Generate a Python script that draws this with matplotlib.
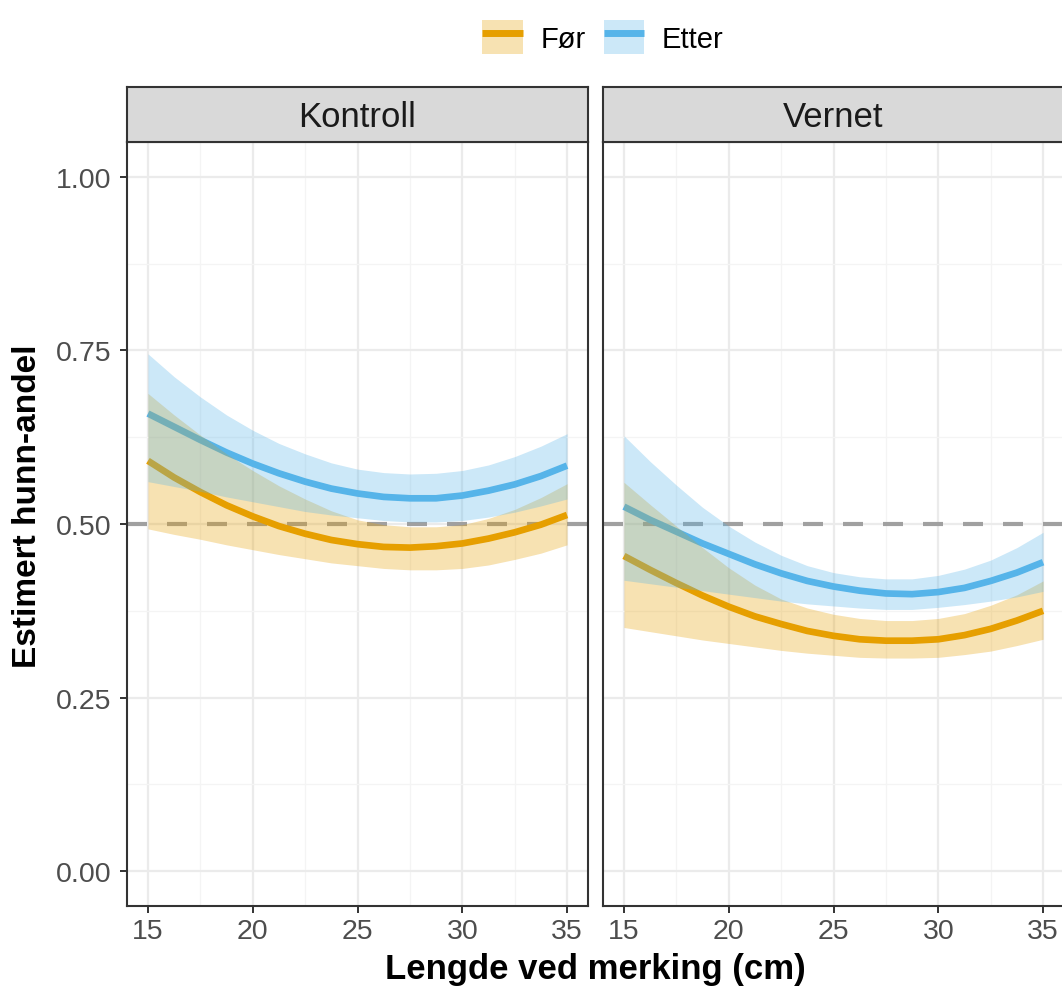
import matplotlib
matplotlib.use("Agg")
import matplotlib.pyplot as plt
from matplotlib.lines import Line2D
from matplotlib.patches import Patch
from matplotlib.legend_handler import HandlerTuple

plt.rcParams['font.family'] = ['Liberation Sans', 'DejaVu Sans']

# fitted share of females with 95% band, per length at tagging (cm)
lengde = [15, 16.25, 17.5, 18.75, 20, 21.25, 22.5, 23.75, 25,
          26.25, 27.5, 28.75, 30, 31.25, 32.5, 33.75, 35]

kontroll_for_fit = [0.591, 0.567, 0.546, 0.527, 0.511, 0.497, 0.486, 0.477, 0.471,
                    0.467, 0.466, 0.468, 0.472, 0.479, 0.488, 0.499, 0.513]
kontroll_for_lo = [0.493, 0.485, 0.478, 0.470, 0.463, 0.456, 0.450, 0.444, 0.440,
                   0.436, 0.434, 0.434, 0.436, 0.441, 0.449, 0.458, 0.470]
kontroll_for_hi = [0.688, 0.657, 0.628, 0.601, 0.577, 0.555, 0.536, 0.519, 0.506,
                   0.499, 0.496, 0.496, 0.499, 0.508, 0.521, 0.538, 0.558]
kontroll_etter_fit = [0.659, 0.640, 0.621, 0.603, 0.587, 0.573, 0.561, 0.551, 0.544,
                      0.539, 0.537, 0.537, 0.541, 0.548, 0.557, 0.569, 0.584]
kontroll_etter_lo = [0.561, 0.554, 0.547, 0.539, 0.532, 0.525, 0.518, 0.513, 0.509,
                     0.505, 0.503, 0.503, 0.505, 0.510, 0.517, 0.526, 0.536]
kontroll_etter_hi = [0.745, 0.712, 0.683, 0.657, 0.635, 0.616, 0.601, 0.588, 0.579,
                     0.574, 0.572, 0.573, 0.577, 0.585, 0.597, 0.612, 0.630]

vernet_for_fit = [0.454, 0.434, 0.415, 0.397, 0.381, 0.367, 0.356, 0.346, 0.339,
                  0.334, 0.332, 0.332, 0.334, 0.340, 0.349, 0.361, 0.375]
vernet_for_lo = [0.351, 0.345, 0.339, 0.333, 0.328, 0.323, 0.318, 0.314, 0.311,
                 0.308, 0.307, 0.307, 0.308, 0.312, 0.317, 0.325, 0.334]
vernet_for_hi = [0.560, 0.528, 0.497, 0.466, 0.437, 0.412, 0.392, 0.379, 0.370,
                 0.364, 0.361, 0.361, 0.364, 0.371, 0.383, 0.398, 0.418]
vernet_etter_fit = [0.525, 0.506, 0.489, 0.472, 0.457, 0.442, 0.429, 0.418, 0.410,
                    0.404, 0.400, 0.399, 0.402, 0.408, 0.418, 0.430, 0.445]
vernet_etter_lo = [0.419, 0.414, 0.409, 0.404, 0.399, 0.394, 0.389, 0.385, 0.382,
                   0.379, 0.377, 0.377, 0.380, 0.384, 0.389, 0.395, 0.403]
vernet_etter_hi = [0.627, 0.590, 0.556, 0.524, 0.497, 0.474, 0.455, 0.440, 0.430,
                   0.424, 0.421, 0.421, 0.426, 0.435, 0.448, 0.466, 0.488]

perioder = ['Før', 'Etter']
farger = {'Før': '#E69F00', 'Etter': '#56B4E9'}

paneler = [
    ('Kontroll', {'Før': (kontroll_for_fit, kontroll_for_lo, kontroll_for_hi),
                  'Etter': (kontroll_etter_fit, kontroll_etter_lo, kontroll_etter_hi)}),
    ('Vernet', {'Før': (vernet_for_fit, vernet_for_lo, vernet_for_hi),
                'Etter': (vernet_etter_fit, vernet_etter_lo, vernet_etter_hi)}),
]

W, H = 1062, 987
fig = plt.figure(figsize=(W / 100, H / 100), dpi=100)


def box(l, t, r, b):
    return [l / W, 1 - b / H, (r - l) / W, (b - t) / H]


kanter = [(127, 588), (603, 1064)]

for i, ((navn, data), (l, r)) in enumerate(zip(paneler, kanter)):
    ax = fig.add_axes(box(l, 143, r, 907))
    ax.set_xlim(14, 36)
    ax.set_ylim(-0.05, 1.05)
    ax.set_xticks([15, 20, 25, 30, 35])
    ax.set_xticks([17.5, 22.5, 27.5, 32.5], minor=True)
    ax.set_yticks([0, 0.25, 0.5, 0.75, 1.0])
    ax.set_yticks([0.125, 0.375, 0.625, 0.875], minor=True)
    ax.set_yticklabels(['0.00', '0.25', '0.50', '0.75', '1.00'])
    ax.grid(which='major', color='#EBEBEB', lw=1.6)
    ax.grid(which='minor', color='#F4F4F4', lw=0.9)
    ax.set_axisbelow(True)
    ax.tick_params(which='minor', length=0)
    ax.tick_params(which='major', length=5, width=1.4, color='#333333',
                   labelsize=20.5, labelcolor='#4D4D4D')
    ax.tick_params(axis='x', pad=4)
    ax.tick_params(axis='y', pad=6)
    if i > 0:
        ax.tick_params(axis='y', left=False, labelleft=False)
    for s in ax.spines.values():
        s.set_color('#333333')
        s.set_linewidth(1.5)

    ax.axhline(0.5, color='#A0A0A0', lw=3, ls=(0, (4.8, 4.8)), zorder=1.5)

    # lines first, ribbons laid on top
    for p in perioder:
        fit, lo, hi = data[p]
        ax.plot(lengde, fit, color=farger[p], lw=4.8, solid_capstyle='butt',
                solid_joinstyle='round', zorder=2)
    for p in perioder:
        fit, lo, hi = data[p]
        ax.fill_between(lengde, lo, hi, color=farger[p], alpha=0.3, lw=0, zorder=3)

    sax = fig.add_axes(box(l, 88, r, 143))
    sax.set_facecolor('#D9D9D9')
    sax.set_xticks([])
    sax.set_yticks([])
    for s in sax.spines.values():
        s.set_color('#333333')
        s.set_linewidth(1.5)
    sax.text(0.5, 0.47, navn, ha='center', va='center', fontsize=25,
             color='#1A1A1A', transform=sax.transAxes)

fig.text(595 / W, 8 / H, 'Lengde ved merking (cm)', ha='center', va='baseline',
         fontsize=25, fontweight='bold')
fig.text(28 / W, 1 - 506 / H, 'Estimert hunn-andel', ha='center', va='center',
         rotation=90, fontsize=24, fontweight='bold')

handles = [(Patch(facecolor=farger[p], alpha=0.3, edgecolor='none'),
            Line2D([], [], color=farger[p], lw=5, solid_capstyle='butt'))
           for p in perioder]
fig.legend(handles, perioder, handler_map={tuple: HandlerTuple(ndivide=1, pad=0)},
           ncol=2, loc='center', bbox_to_anchor=(603 / W, 1 - 38 / H), frameon=False,
           fontsize=21, handlelength=1.4, handleheight=1.4, handletextpad=0.6,
           columnspacing=0.6)

fig.savefig('out.png', dpi=100)
